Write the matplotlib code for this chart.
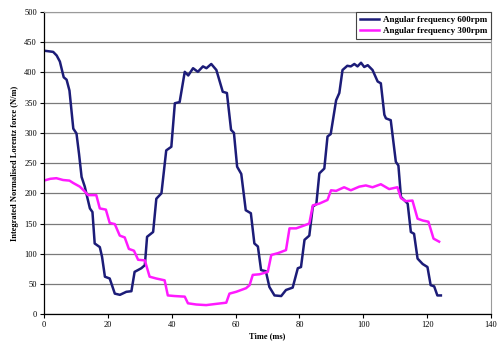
import matplotlib
matplotlib.use("Agg")
import matplotlib.pyplot as plt

NAVY, MAGENTA = "#1c1c78", "#ff1aff"

# 600 rpm trace (time in ms, force in N/m)
t600 = [0, 1.5, 2.9, 4, 5, 6.2, 7.1, 8, 9.2, 10.2, 11, 11.8, 12.8, 13.5, 14.4,
        15.2, 15.9, 17.5, 18.2, 19.1, 20.6, 21.5, 22.2, 23.8, 25.8, 27.4, 28.4,
        30.5, 31.6, 32.3, 34.2, 35.2, 36.8, 38.3, 39.9, 41, 42.5, 44.1, 45.2,
        46.7, 48.2, 49.8, 50.9, 52.4, 54, 56, 57.3, 58.6, 59.5, 60.5, 61.8,
        63.2, 64.8, 65.9, 67, 68, 69.5, 70.6, 72.2, 74.3, 75.8, 77.9, 79.5,
        80.5, 81.6, 83.1, 84.2, 85.3, 86.25, 87.8, 88.8, 89.8, 91.5, 92.5, 93.5,
        95, 96.1, 97.2, 98.2, 99.3, 100.3, 101.4, 102.9, 104.5, 105.5, 106.6,
        107.1, 108.6, 110.2, 111, 111.8, 113.9, 114.9, 115.9, 117, 118.6, 120.1,
        121.1, 122.2, 123.2, 124.3]
f600 = [436, 435, 434, 428, 418, 392, 388, 370, 307, 299, 265, 227, 211, 195, 175,
        169, 117, 111, 95, 62, 59, 45, 34, 32, 37, 38, 70,
        76, 81, 128, 136, 191, 200, 271, 277, 349, 351, 401, 395,
        407, 401, 410, 407, 414, 404, 368, 366, 305, 300, 244, 232,
        172, 167, 117, 112, 73, 71, 45, 31, 30, 40, 44, 76,
        78, 123, 130, 178, 182, 233, 241, 294, 298, 354, 366, 404,
        411, 410, 414, 410, 416, 409, 412, 404, 385, 382, 330,
        324, 321, 252, 246, 194, 183, 136, 133, 92, 83, 78,
        48, 46, 31, 31]

# 300 rpm trace
t300 = [0, 2, 3.9, 6, 8, 9.2, 11.25, 12.8, 13.8, 16.4, 17.5, 19.4, 20.6, 22.2,
        23.75, 25.3, 26.6, 28.2, 29.5, 31.6, 33.1, 35.2, 37.8, 38.8, 40.9, 44.1,
        45.1, 47.7, 50.8, 53.9, 57.1, 58.1, 60.2, 63.3, 64.4, 65.4, 67.5, 70.1,
        71.2, 73.3, 75.8, 76.9, 79, 81.6, 83.1, 84.2, 86.25, 88.8, 89.9, 91.5,
        94, 96.1, 98.75, 100.8, 102.9, 105.5, 108.1, 110.7, 111.8, 113.3, 115.4,
        117, 118.6, 120.4, 122, 123.75]
f300 = [221, 224, 225, 222, 221, 217, 211, 203, 197, 197, 175, 173, 151, 149,
        130, 127, 108, 105, 90, 89, 62, 59, 56, 31, 30, 29,
        18, 16, 15, 17, 19, 34, 37, 43, 48, 65, 66, 70,
        98, 101, 106, 142, 142, 147, 150, 180, 183, 189, 205, 204,
        210, 205, 211, 213, 210, 215, 207, 210, 192, 187, 188,
        158, 155, 153, 125, 120]

XTICKS = [0, 20, 40, 60, 80, 100, 120, 140]
YTICKS = [0, 50, 100, 150, 200, 250, 300, 350, 400, 450, 500]

plt.rcParams["font.family"] = ["Liberation Serif", "DejaVu Serif"]

fig = plt.figure(figsize=(4.99, 3.53), dpi=100)
ax = fig.add_axes([0.088, 0.110, 0.896, 0.856])

ax.plot(t600, f600, color=NAVY, lw=1.8, label="Angular frequency 600rpm")
ax.plot(t300, f300, color=MAGENTA, lw=1.8, label="Angular frequency 300rpm")

ax.set_xlim(0, 140); ax.set_ylim(0, 500)
ax.set_xticks(XTICKS); ax.set_yticks(YTICKS)
ax.tick_params(labelsize=6, length=3, width=0.8, direction="out", pad=2)
ax.grid(axis="y", color="#7a7a7a", lw=0.9)
ax.set_axisbelow(True)
for s in ("top", "right"):
    ax.spines[s].set_color("#9a9a9a"); ax.spines[s].set_linewidth(0.8)
for s in ("left", "bottom"):
    ax.spines[s].set_color("black"); ax.spines[s].set_linewidth(0.9)

ax.set_xlabel("Time (ms)", fontsize=6, fontweight="bold", labelpad=2)
ax.set_ylabel("Integrated Normalised Lorentz force (N/m)", fontsize=6,
              fontweight="bold", labelpad=4)

leg = ax.legend(loc="upper right", bbox_to_anchor=(1.0, 1.0), fontsize=6.5,
                prop=dict(weight="bold", size=6.5), frameon=True, fancybox=False,
                framealpha=1, edgecolor="#444444", handlelength=2.2,
                borderpad=0.4, labelspacing=0.3, handletextpad=0.4, borderaxespad=0)
leg.get_frame().set_linewidth(0.8)

fig.savefig("out.png", dpi=100)
